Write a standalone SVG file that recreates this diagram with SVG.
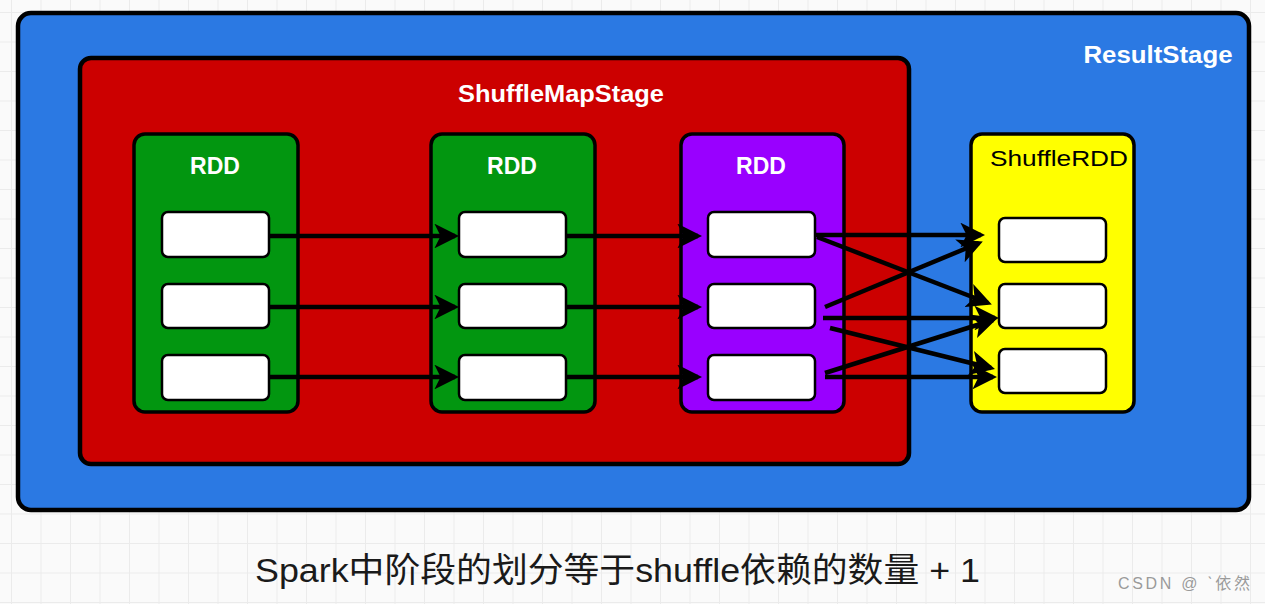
<svg xmlns="http://www.w3.org/2000/svg" width="1265" height="604" viewBox="0 0 1265 604">
<defs>
<pattern id="grid" width="29.5" height="29.5" patternUnits="userSpaceOnUse" x="11" y="12">
<path d="M0 0H29.5M0 0V29.5" fill="none" stroke="#ebebeb" stroke-width="2"/>
</pattern>
<marker id="ah" viewBox="0 0 12 12" refX="10" refY="6" markerWidth="5.5" markerHeight="5.5" markerUnits="strokeWidth" orient="auto">
<path d="M0 0 L12 6 L0 12 L3 6 Z" fill="#000"/>
</marker>
<style>
.stage{stroke:#000;stroke-width:4.5}
.rdd{stroke:#000;stroke-width:3.5}
.part{fill:#fff;stroke:#000;stroke-width:2.5}
.lbl{font-family:"Liberation Sans","Open Sans",Arial,sans-serif;font-size:23px;font-weight:bold;text-anchor:middle}
.w{fill:#fff}
.conn line{stroke:#000;stroke-width:4.5;marker-end:url(#ah)}
</style>
</defs>
<rect width="1265" height="604" fill="#fafafa"/>
<rect width="1265" height="604" fill="url(#grid)"/>
<g id="resultStage">
<rect class="stage" x="18" y="13" width="1231" height="497" rx="13" fill="#2b79e3"/>
<text class="lbl w" x="1158" y="63" font-size="24" textLength="149" lengthAdjust="spacingAndGlyphs">ResultStage</text>
</g>
<g id="shuffleMapStage">
<rect class="stage" x="80" y="58" width="829" height="406" rx="11" fill="#cc0000"/>
<text class="lbl w" x="561" y="102" textLength="206" lengthAdjust="spacingAndGlyphs">ShuffleMapStage</text>
</g>
<g id="rdd1">
<rect class="rdd" x="134" y="134" width="164" height="278" rx="11" fill="#029610"/>
<text class="lbl w" x="215" y="174">RDD</text>
<rect class="part" x="162" y="212" width="107" height="45" rx="6"/>
<rect class="part" x="162" y="284" width="107" height="44" rx="6"/>
<rect class="part" x="162" y="355" width="107" height="45" rx="6"/>
</g>
<g id="rdd2">
<rect class="rdd" x="431" y="134" width="164" height="278" rx="11" fill="#029610"/>
<text class="lbl w" x="512" y="174">RDD</text>
<rect class="part" x="459" y="212" width="107" height="45" rx="6"/>
<rect class="part" x="459" y="284" width="107" height="44" rx="6"/>
<rect class="part" x="459" y="355" width="107" height="45" rx="6"/>
</g>
<g id="rdd3">
<rect class="rdd" x="681" y="134" width="163" height="278" rx="11" fill="#9900ff"/>
<text class="lbl w" x="761" y="174">RDD</text>
<rect class="part" x="708" y="212" width="107" height="45" rx="6"/>
<rect class="part" x="708" y="284" width="107" height="44" rx="6"/>
<rect class="part" x="708" y="355" width="107" height="45" rx="6"/>
</g>
<g id="shuffleRDD">
<rect class="rdd" x="971" y="134" width="163" height="278" rx="11" fill="#ffff00"/>
<text class="lbl" x="1059" y="166" fill="#000" style="font-weight:normal;font-size:22px" textLength="138" lengthAdjust="spacingAndGlyphs">ShuffleRDD</text>
<rect class="part" x="999" y="218" width="107" height="44" rx="6"/>
<rect class="part" x="999" y="284" width="107" height="44" rx="6"/>
<rect class="part" x="999" y="349" width="107" height="44" rx="6"/>
</g>
<g id="connectors" class="conn">
<line x1="269" y1="236" x2="455" y2="236"/>
<line x1="269" y1="307" x2="455" y2="307"/>
<line x1="269" y1="377" x2="455" y2="377"/>
<line x1="566" y1="236" x2="698" y2="236"/>
<line x1="566" y1="307" x2="698" y2="307"/>
<line x1="566" y1="377" x2="698" y2="377"/>
<line x1="815" y1="235" x2="981" y2="235"/>
<line x1="817" y1="237" x2="988" y2="303"/>
<line x1="825" y1="307" x2="979" y2="243"/>
<line x1="823" y1="318" x2="995" y2="318"/>
<line x1="830" y1="328" x2="991" y2="368"/>
<line x1="825" y1="373" x2="993" y2="320"/>
<line x1="825" y1="377" x2="993" y2="377"/>
</g>
<text x="255" y="582" font-family="'Liberation Sans','Noto Sans CJK SC',sans-serif" font-size="34" fill="#1a1a1a" textLength="725" lengthAdjust="spacingAndGlyphs">Spark中阶段的划分等于shuffle依赖的数量 + 1</text>
<text x="1118" y="589" font-family="'Liberation Sans','Noto Sans CJK SC',sans-serif" font-size="16" fill="#9a9a9a" textLength="132" lengthAdjust="spacing">CSDN @ ˋ依然</text>
</svg>
